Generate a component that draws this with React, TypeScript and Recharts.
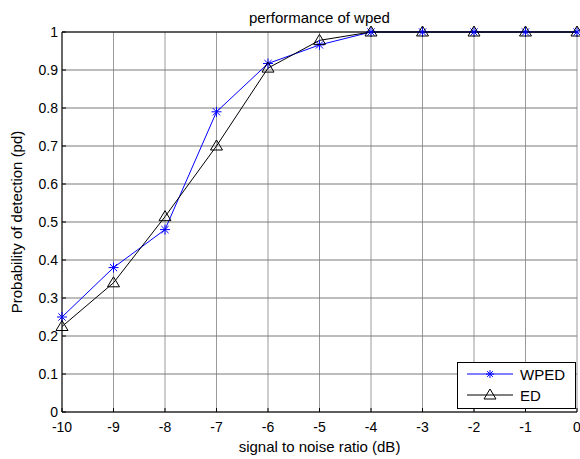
import React from 'react'
import {
  LineChart,
  Line,
  XAxis,
  YAxis,
  CartesianGrid,
  Legend,
  Label,
} from 'recharts'

// signal to noise ratio (dB)
const snr = [-10, -9, -8, -7, -6, -5, -4, -3, -2, -1, 0]
// probability of detection
const wped = [0.25, 0.38, 0.48, 0.79, 0.917, 0.966, 1, 1, 1, 1, 1]
const ed = [0.225, 0.34, 0.514, 0.7, 0.905, 0.978, 1, 1, 1, 1, 1]

const xTicks = [-10, -9, -8, -7, -6, -5, -4, -3, -2, -1, 0]
const yTicks = [0, 0.1, 0.2, 0.3, 0.4, 0.5, 0.6, 0.7, 0.8, 0.9, 1]

const data = snr.map((s, i) => ({ snr: s, WPED: wped[i], ED: ed[i] }))

const FONT = 'Arial, "Liberation Sans", Helvetica, sans-serif'

const Asterisk = ({ cx, cy, r = 5, color = '#0000ff' }: any) => {
  const d = r * 0.72
  return (
    <g stroke={color} strokeWidth={1}>
      <line x1={cx} y1={cy - r} x2={cx} y2={cy + r} />
      <line x1={cx - r} y1={cy} x2={cx + r} y2={cy} />
      <line x1={cx - d} y1={cy - d} x2={cx + d} y2={cy + d} />
      <line x1={cx - d} y1={cy + d} x2={cx + d} y2={cy - d} />
    </g>
  )
}

const Triangle = ({ cx, cy, color = '#000' }: any) => (
  <polygon
    points={`${cx},${cy - 6} ${cx - 6},${cy + 4} ${cx + 6},${cy + 4}`}
    fill="none"
    stroke={color}
    strokeWidth={1}
  />
)

const renderStar = (props: any) => {
  const { cx, cy, index } = props
  return <Asterisk key={`s-${index}`} cx={cx} cy={cy} />
}

const renderTri = (props: any) => {
  const { cx, cy, index } = props
  return <Triangle key={`t-${index}`} cx={cx} cy={cy} />
}

const MatlabLegend = () => (
  <svg width={120} height={48} style={{ display: 'block' }}>
    <rect x={0.5} y={0.5} width={118} height={46} fill="#fff" stroke="#000" strokeWidth={1} />
    <line x1={10} y1={12} x2={56} y2={12} stroke="#0000ff" />
    <Asterisk cx={33} cy={12} r={4} />
    <text x={63} y={18} fontSize={15} fontFamily={FONT} fill="#000">WPED</text>
    <line x1={10} y1={33} x2={56} y2={33} stroke="#000" />
    <Triangle cx={33} cy={33} />
    <text x={63} y={39} fontSize={15} fontFamily={FONT} fill="#000">ED</text>
  </svg>
)

export default function App() {
  return (
    <div style={{ position: 'absolute', left: 0, top: 0, background: '#fff' }}>
      <LineChart
        width={580}
        height={459}
        data={data}
        margin={{ top: 31, right: 3, left: 22, bottom: 17 }}
      >
        <CartesianGrid
          xAxisId="bottom"
          yAxisId="left"
          horizontal={false}
          stroke="#9a9a9a"
        />
        <CartesianGrid
          xAxisId="bottom"
          yAxisId="left"
          vertical={false}
          stroke="#7a7a7a"
        />
        <XAxis
          xAxisId="bottom"
          dataKey="snr"
          type="number"
          domain={[-10, 0]}
          ticks={xTicks}
          interval={0}
          height={30}
          axisLine={{ stroke: '#000', strokeWidth: 1 }}
          tickLine={{ stroke: '#000' }}
          tickSize={-4}
          tickMargin={14}
          tick={{ fill: '#000', fontSize: 14, fontFamily: FONT }}
        >
          <Label
            value="signal to noise ratio (dB)"
            position="insideBottom"
            offset={-10}
            style={{ fill: '#000', fontSize: 15, fontFamily: FONT }}
          />
        </XAxis>
        <XAxis
          xAxisId="top"
          orientation="top"
          dataKey="snr"
          type="number"
          domain={[-10, 0]}
          ticks={xTicks}
          interval={0}
          height={1}
          axisLine={{ stroke: '#000', strokeWidth: 1 }}
          tickLine={{ stroke: '#000' }}
          tickSize={-4}
          tick={false}
        >
          <Label
            value="performance of wped"
            position="top"
            offset={8}
            style={{ fill: '#000', fontSize: 15, fontFamily: FONT }}
          />
        </XAxis>
        <YAxis
          yAxisId="left"
          type="number"
          domain={[0, 1]}
          ticks={yTicks}
          interval={0}
          width={40}
          axisLine={{ stroke: '#000', strokeWidth: 1 }}
          tickLine={{ stroke: '#000' }}
          tickSize={-4}
          tickMargin={8}
          tickFormatter={(v: number) => String(Math.round(v * 10) / 10)}
          tick={{ fill: '#000', fontSize: 14, fontFamily: FONT }}
        >
          <Label
            value="Probability of detection (pd)"
            angle={-90}
            position="insideLeft"
            offset={-5}
            style={{ textAnchor: 'middle', fill: '#000', fontSize: 15, fontFamily: FONT }}
          />
        </YAxis>
        <YAxis
          yAxisId="right"
          orientation="right"
          type="number"
          domain={[0, 1]}
          ticks={yTicks}
          interval={0}
          width={0}
          axisLine={{ stroke: '#000', strokeWidth: 1 }}
          tickLine={{ stroke: '#000' }}
          tickSize={-4}
          tick={false}
        />
        <Legend
          layout="horizontal"
          verticalAlign="middle"
          align="center"
          content={() => <MatlabLegend />}
          wrapperStyle={{ position: 'absolute', left: 457, top: 362, width: 120, height: 48 }}
        />
        <Line
          xAxisId="bottom"
          yAxisId="left"
          type="linear"
          dataKey="WPED"
          stroke="#0000ff"
          strokeWidth={1}
          dot={renderStar}
          activeDot={false}
          isAnimationActive={false}
        />
        <Line
          xAxisId="bottom"
          yAxisId="left"
          type="linear"
          dataKey="ED"
          stroke="#000"
          strokeWidth={1}
          dot={renderTri}
          activeDot={false}
          isAnimationActive={false}
        />
      </LineChart>
    </div>
  )
}
